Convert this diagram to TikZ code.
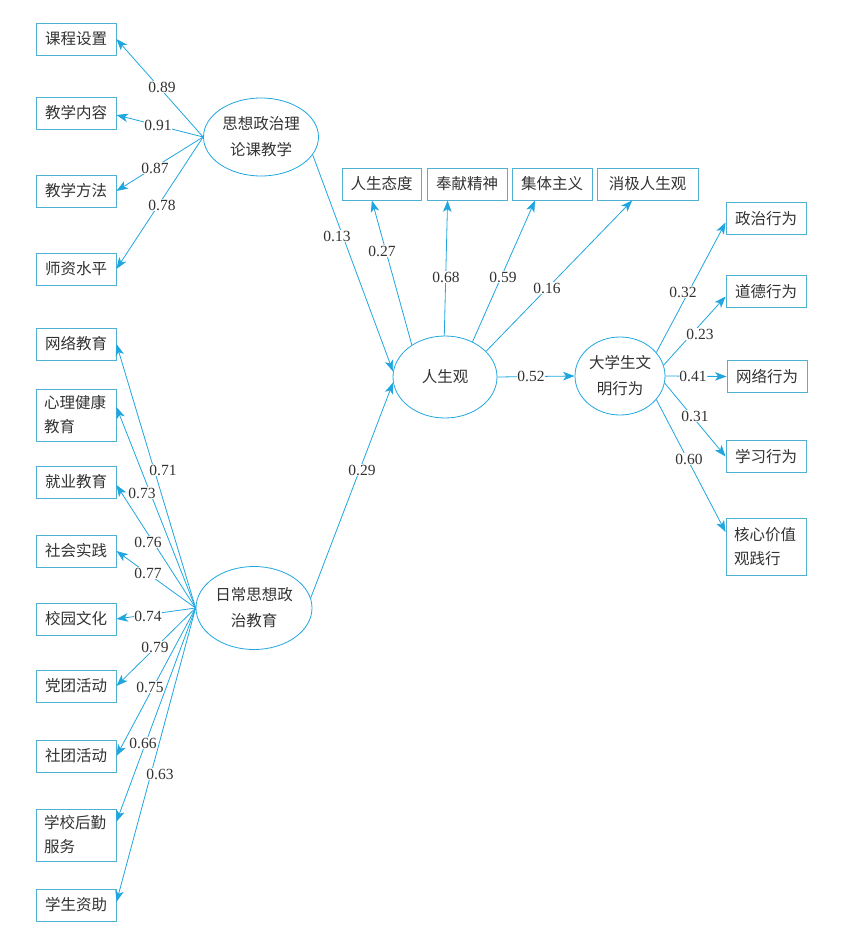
\documentclass[tikz,border=0pt]{standalone}
\usepackage{fontspec}
\setmainfont{Liberation Serif}
\newfontfamily\cjk{Noto Sans CJK SC}
\usetikzlibrary{shapes.geometric,arrows.meta,calc}
\definecolor{linec}{RGB}{32,166,222}
\definecolor{boxc}{RGB}{80,176,212}
\definecolor{txtc}{RGB}{50,50,50}
\tikzset{
  obs/.style={draw=boxc, line width=0.9pt, minimum width=80pt, minimum height=32pt, inner sep=0pt, text=txtc, font=\cjk\fontsize{15.5}{24}\selectfont},
  obstwo/.style={obs, minimum height=52pt, text width=64pt, align=left},
  lat/.style={ellipse, draw=linec, line width=0.8pt, inner sep=0pt, text=txtc, align=center, font=\cjk\fontsize{15.5}{26}\selectfont},
  arr/.style={draw=linec, line width=0.8pt, -{Stealth[length=11.5pt,width=8.5pt,inset=3pt]}},
  lbl/.style={fill=white, inner sep=0.8pt, text=txtc, font=\fontsize{15.5}{15.5}\selectfont}
}
\begin{document}
\begin{tikzpicture}[x=1pt,y=-1pt]
\useasboundingbox (0,0) rectangle (849,928);
% latent variables
\node[lat, minimum width=115pt, minimum height=78pt] (A) at (261,137) {思想政治理\\论课教学};
\node[lat, minimum width=116pt, minimum height=83pt] (B) at (254,608) {日常思想政\\治教育};
\node[lat, minimum width=104pt, minimum height=82pt] (L) at (445,377) {人生观};
\node[lat, minimum width=90pt, minimum height=78pt] (C) at (620,376) {大学生文\\明行为};
% left observed (A)
\node[obs] (a1) at (76,39) {课程设置};
\node[obs] (a2) at (76,113) {教学内容};
\node[obs] (a3) at (76,191) {教学方法};
\node[obs] (a4) at (76,269) {师资水平};
% left observed (B)
\node[obs] (b1) at (76,344) {网络教育};
\node[obstwo] (b2) at (76,415) {心理健康\\教育};
\node[obs] (b3) at (76,482) {就业教育};
\node[obs] (b4) at (76,551) {社会实践};
\node[obs] (b5) at (76,619) {校园文化};
\node[obs] (b6) at (76,686) {党团活动};
\node[obs] (b7) at (76,756) {社团活动};
\node[obstwo] (b8) at (76,835) {学校后勤\\服务};
\node[obs] (b9) at (76,905) {学生资助};
% top observed (L)
\node[obs, minimum width=79pt] (l1) at (381.5,184) {人生态度};
\node[obs] (l2) at (467,184) {奉献精神};
\node[obs] (l3) at (552,184) {集体主义};
\node[obs, minimum width=101pt] (l4) at (647.5,184) {消极人生观};
% right observed (C)
\node[obs] (c1) at (766,218.5) {政治行为};
\node[obs] (c2) at (766,291.5) {道德行为};
\node[obs] (c3) at (767,376.5) {网络行为};
\node[obs] (c4) at (766,456.5) {学习行为};
\node[obstwo, minimum height=57pt] (c5) at (766,546.5) {核心价值\\观践行};
% connectors A
\draw[arr] (A.west) -- (a1.east);
\draw[arr] (A.west) -- ($(a2.east)+(0,2)$);
\draw[arr] (A.west) -- (a3.east);
\draw[arr] (A.west) -- (a4.east);
% connectors B
\draw[arr] (B.west) -- (b1.east);
\draw[arr] (B.west) -- ($(b2.north east)!0.35!(b2.south east)$);
\draw[arr] (B.west) -- ($(b3.east)+(0,3)$);
\draw[arr] (B.west) -- (b4.east);
\draw[arr] (B.west) -- (b5.east);
\draw[arr] (B.west) -- (b6.east);
\draw[arr] (B.west) -- (b7.east);
\draw[arr] (B.west) -- ($(b8.north east)!0.25!(b8.south east)$);
\draw[arr] (B.west) -- ($(b9.east)+(0,-3)$);
% to L
\draw[arr] (A.-19) -- (L.174);
\draw[arr] (B.10) -- (L.186);
% L to top
\draw[arr] (L.136) -- ($(l1.south west)!0.38!(l1.south east)$);
\draw[arr] (L.91) -- ($(l2.south west)!0.26!(l2.south east)$);
\draw[arr] (L.52) -- ($(l3.south west)!0.29!(l3.south east)$);
\draw[arr] (L.32) -- ($(l4.south west)!0.35!(l4.south east)$);
% L to C
\draw[arr] (L.east) -- (C.west);
% C to right
\draw[arr] (C.33) -- ($(c1.west)+(0,4)$);
\draw[arr] (C.14) -- ($(c2.west)+(0,5)$);
\draw[arr] (C.east) -- (c3.west);
\draw[arr] (C.-9) -- (c4.west);
\draw[arr] (C.-33) -- ($(c5.north west)!0.25!(c5.south west)$);
% labels
\node[lbl] (t1) at (162,87) {0.89};
\node[lbl] (t2) at (158,125) {0.91};
\node[lbl] (t3) at (155,168) {0.87};
\node[lbl] (t4) at (162,205) {0.78};
\node[lbl] (t5) at (337,236) {0.13};
\node[lbl] (t6) at (362,470) {0.29};
\node[lbl] (u1) at (163,470) {0.71};
\node[lbl] (u2) at (142,493) {0.73};
\node[lbl] (u3) at (148,542) {0.76};
\node[lbl] (u4) at (148,573) {0.77};
\node[lbl] (u5) at (148,616) {0.74};
\node[lbl] (u6) at (155,647) {0.79};
\node[lbl] (u7) at (150,687) {0.75};
\node[lbl] (u8) at (143,743) {0.66};
\node[lbl] (u9) at (160,774) {0.63};
\node[lbl] (v1) at (382,251) {0.27};
\node[lbl] (v2) at (446,277) {0.68};
\node[lbl] (v3) at (503,277) {0.59};
\node[lbl] (v4) at (547,288) {0.16};
\node[lbl] (v5) at (531,376) {0.52};
\node[lbl] (w1) at (683,292) {0.32};
\node[lbl] (w2) at (700,334) {0.23};
\node[lbl] (w3) at (693,376) {0.41};
\node[lbl] (w4) at (695,416) {0.31};
\node[lbl] (w5) at (689,459) {0.60};
\end{tikzpicture}
\end{document}
